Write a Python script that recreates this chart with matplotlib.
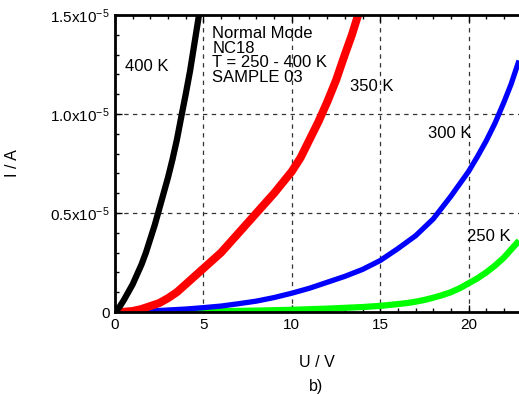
"""I-V curves of sample NC18 in normal mode at four temperatures."""

import matplotlib.pyplot as plt
from matplotlib.ticker import FixedLocator, MultipleLocator

plt.rcParams["font.family"] = ["Liberation Sans", "DejaVu Sans"]
plt.rcParams["mathtext.fontset"] = "custom"
plt.rcParams["mathtext.rm"] = "Liberation Sans"
plt.rcParams["mathtext.it"] = "Liberation Sans"

# voltage (V) and current (1e-5 A)
u_400 = [0, 0.25, 0.5, 0.75, 1.0, 1.25, 1.5, 1.75, 2.0, 2.25, 2.5, 2.75,
         3.0, 3.25, 3.5, 3.78, 4.0, 4.25, 4.5, 4.75]
i_400 = [0, 0.025, 0.06, 0.10, 0.14, 0.19, 0.24, 0.30, 0.37, 0.44, 0.52,
         0.60, 0.68, 0.77, 0.87, 1.00, 1.10, 1.22, 1.36, 1.50]

u_350 = [0, 0.5, 1, 1.5, 2, 2.5, 3, 3.5, 4, 4.5, 5, 5.5, 6, 6.5, 7, 7.5,
         8, 8.5, 9, 9.5, 10, 10.5, 11, 11.5, 12, 12.5, 13, 13.4, 13.75]
i_350 = [0, 0.001, 0.005, 0.015, 0.03, 0.045, 0.07, 0.10, 0.14, 0.18,
         0.22, 0.26, 0.30, 0.35, 0.40, 0.45, 0.50, 0.55, 0.60, 0.655,
         0.71, 0.78, 0.87, 0.96, 1.06, 1.17, 1.30, 1.40, 1.50]

u_300 = [0, 1, 2, 3, 4, 5, 6, 7, 8, 9, 10, 11, 12, 13, 14, 15, 16, 17,
         18, 19, 20, 20.5, 21, 21.5, 22, 22.4, 22.85]
i_300 = [0, 0.002, 0.005, 0.01, 0.015, 0.022, 0.03, 0.042, 0.055, 0.073,
         0.095, 0.12, 0.15, 0.18, 0.215, 0.26, 0.32, 0.385, 0.47, 0.585,
         0.71, 0.785, 0.865, 0.955, 1.06, 1.15, 1.27]

u_250 = [0, 2, 4, 6, 8, 10, 12, 13, 14, 15, 16, 16.5, 17, 17.5, 18, 18.5,
         19, 19.5, 20, 20.5, 21, 21.5, 22, 22.4, 22.85]
i_250 = [0, 0.001, 0.002, 0.004, 0.007, 0.011, 0.017, 0.021, 0.025, 0.031,
         0.04, 0.045, 0.052, 0.061, 0.072, 0.085, 0.10, 0.12, 0.145, 0.17,
         0.20, 0.235, 0.275, 0.315, 0.36]

x_ticks = [0, 5, 10, 15, 20]
y_ticks = [0, 0.5, 1.0, 1.5]
y_tick_labels = ["0", "0.5x10$^{-5}$", "1.0x10$^{-5}$", "1.5x10$^{-5}$"]

curve_labels = [("400 K", 0.55, 1.24), ("350 K", 13.3, 1.14),
                ("300 K", 17.7, 0.90), ("250 K", 19.9, 0.38)]

fig = plt.figure(figsize=(5.19, 3.94), dpi=100)
ax = fig.add_axes([115 / 519, 1 - 312 / 394, 1 - 115 / 519, 297 / 394])

for u, i, color, lw in [(u_250, i_250, "#00ff00", 4.5),
                        (u_300, i_300, "#0000ff", 3.8),
                        (u_350, i_350, "#ff0000", 5.8),
                        (u_400, i_400, "black", 4.5)]:
    ax.plot(u, [v * 1e-5 for v in i], color=color, lw=lw,
            solid_capstyle="butt", solid_joinstyle="round")

ax.set_xlim(0, 22.85)
ax.set_ylim(0, 1.5e-5)

ax.xaxis.set_major_locator(FixedLocator(x_ticks))
ax.xaxis.set_minor_locator(MultipleLocator(1))
ax.yaxis.set_major_locator(FixedLocator([v * 1e-5 for v in y_ticks]))
ax.yaxis.set_minor_locator(MultipleLocator(0.1e-5))
ax.set_yticklabels(y_tick_labels)
ax.tick_params(which="both", direction="in", top=True, right=False,
               labelsize=11, width=1)
ax.tick_params(which="major", length=5, pad=4)
ax.tick_params(which="minor", length=3)

ax.grid(True, which="major", color="0.2", lw=0.9, linestyle=(0, (3.5, 3.5)))
ax.set_axisbelow(True)

for side in ["left", "bottom", "top"]:
    ax.spines[side].set_linewidth(2)
ax.spines["right"].set_visible(False)

ax.set_xlabel("U / V", fontsize=11.5)
ax.set_ylabel("I / A", fontsize=11.5)
ax.xaxis.set_label_coords(0.5, -0.145)
ax.yaxis.set_label_coords(-0.235, 0.5)

ax.text(5.5, 1.445e-5, "Normal Mode\nNC18\nT = 250 - 400 K\nSAMPLE 03",
        fontsize=12, va="top", linespacing=0.98)
for text, x, y in curve_labels:
    ax.text(x, y * 1e-5, text, fontsize=12, va="center")

fig.text(316 / 519, 0.0, "b)", fontsize=11.5, ha="center", va="bottom")

fig.savefig("out.png", dpi=100)
